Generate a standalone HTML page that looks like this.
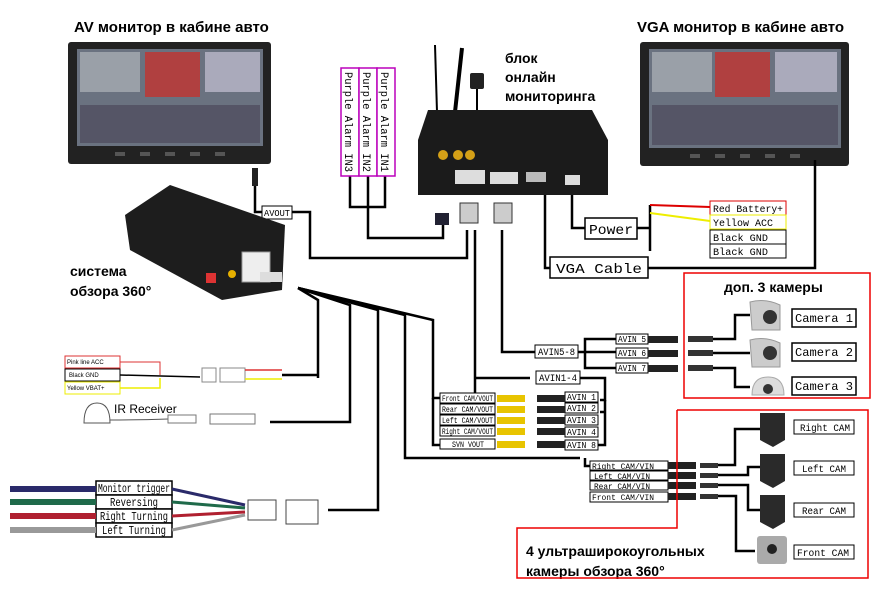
<!DOCTYPE html>
<html><head><meta charset="utf-8"><style>
body{margin:0;background:#fff;}
svg{display:block;font-family:"Liberation Sans",sans-serif;}
.m{font-family:"Liberation Mono",monospace;}
</style></head><body>
<svg width="890" height="596" viewBox="0 0 890 596" xmlns="http://www.w3.org/2000/svg">
<rect width="890" height="596" fill="#fff"/>
<text x="74" y="32" font-size="15" font-weight="bold">AV монитор в кабине авто</text>
<text x="637" y="32" font-size="15" font-weight="bold">VGA монитор в кабине авто</text>
<text x="505" y="63" font-size="14" font-weight="bold">блок</text>
<text x="505" y="82" font-size="14" font-weight="bold">онлайн</text>
<text x="505" y="101" font-size="14" font-weight="bold">мониторинга</text>
<text x="70" y="276" font-size="14" font-weight="bold">система</text>
<text x="70" y="296" font-size="14" font-weight="bold">обзора 360°</text>
<text x="724" y="292" font-size="14" font-weight="bold">доп. 3 камеры</text>
<text x="526" y="556" font-size="14" font-weight="bold">4 ультраширокоугольных</text>
<text x="526" y="576" font-size="14" font-weight="bold">камеры обзора 360°</text>

<g>
<rect x="68" y="42" width="203" height="122" fill="#222" rx="3"/>
<rect x="77" y="49" width="186" height="97" fill="#6a7280"/>
<rect x="80" y="52" width="60" height="40" fill="#9aa0a8"/><rect x="145" y="52" width="55" height="45" fill="#b04040"/><rect x="205" y="52" width="55" height="40" fill="#aab"/>
<rect x="80" y="105" width="180" height="38" fill="#556"/>
<g fill="#555"><rect x="115" y="152" width="10" height="4"/><rect x="140" y="152" width="10" height="4"/><rect x="165" y="152" width="10" height="4"/><rect x="190" y="152" width="10" height="4"/><rect x="215" y="152" width="10" height="4"/></g>
</g>
<g>
<rect x="640" y="42" width="209" height="124" fill="#222" rx="3"/>
<rect x="649" y="49" width="192" height="99" fill="#6a7280"/>
<rect x="652" y="52" width="60" height="40" fill="#9aa0a8"/><rect x="715" y="52" width="55" height="45" fill="#b04040"/><rect x="775" y="52" width="62" height="40" fill="#aab"/>
<rect x="652" y="105" width="186" height="40" fill="#556"/>
<g fill="#555"><rect x="690" y="154" width="10" height="4"/><rect x="715" y="154" width="10" height="4"/><rect x="740" y="154" width="10" height="4"/><rect x="765" y="154" width="10" height="4"/><rect x="790" y="154" width="10" height="4"/></g>
</g>

<g fill="none" stroke="#000" stroke-width="2.5">
<polyline points="255,185 255,212 262,212"/>
<polyline points="292,212 310,212 310,258 467,258 467,230"/>
<polyline points="350,175 350,207 385,207 385,175"/>
<polyline points="368,175 368,238 443,238 443,222"/>
<polyline points="475,230 475,402"/>
<polyline points="502,230 502,352 535,352"/>
<polyline points="475,378 530,378"/>
<polyline points="578,352 585,352 585,339 617,339"/>
<polyline points="585,352 617,352"/>
<polyline points="585,352 585,368 617,368"/>
<polyline points="580,378 605,378 605,400 600,400"/>
<polyline points="605,400 605,445 598,445"/>
<polyline points="605,412 600,412 M605,425 600,425"/>
<polyline points="545,195 545,268 550,268"/>
<polyline points="572,190 572,228 585,228"/>
<polyline points="637,228 650,228"/>
<polyline points="648,268 815,268 815,160"/>
<polyline points="650,205 650,251 M650,220 710,220 M650,236 710,236 M650,251 710,251"/>
<polyline points="298,288 318,300 318,378"/>
<polyline points="298,288 350,305 350,422 270,422"/>
<polyline points="298,288 378,310 378,510 328,510"/>
<polyline points="298,288 405,315 405,458 580,458"/>
<polyline points="298,288 433,320 433,398 440,398"/>
<polyline points="433,398 433,445 440,445 M433,408 440,408 M433,420 440,420 M433,433 440,433"/>
<polyline points="585,458 585,466 590,466 M585,466 585,496 590,496 M585,476 590,476 M585,486 590,486"/>
</g>
<g class="m" font-size="8" stroke="#000" stroke-width="1" lengthAdjust="spacingAndGlyphs">
<rect x="440" y="393" width="55" height="10" fill="#fff"/><text x="442" y="401" stroke="none" textLength="51" lengthAdjust="spacingAndGlyphs">Front CAM/VOUT</text>
<rect x="440" y="404" width="55" height="10" fill="#fff"/><text x="442" y="412" stroke="none" textLength="51" lengthAdjust="spacingAndGlyphs">Rear CAM/VOUT</text>
<rect x="440" y="415" width="55" height="10" fill="#fff"/><text x="442" y="423" stroke="none" textLength="51" lengthAdjust="spacingAndGlyphs">Left CAM/VOUT</text>
<rect x="440" y="426" width="55" height="10" fill="#fff"/><text x="442" y="434" stroke="none" textLength="51" lengthAdjust="spacingAndGlyphs">Right CAM/VOUT</text>
<rect x="440" y="439" width="55" height="10" fill="#fff"/><text x="452" y="447" stroke="none" textLength="32" lengthAdjust="spacingAndGlyphs">SVN VOUT</text>
<rect x="565" y="392" width="33" height="10" fill="#fff"/><text x="567" y="400" stroke="none" font-size="9" textLength="29" lengthAdjust="spacingAndGlyphs">AVIN 1</text>
<rect x="565" y="403" width="33" height="10" fill="#fff"/><text x="567" y="411" stroke="none" font-size="9" textLength="29" lengthAdjust="spacingAndGlyphs">AVIN 2</text>
<rect x="565" y="415" width="33" height="10" fill="#fff"/><text x="567" y="423" stroke="none" font-size="9" textLength="29" lengthAdjust="spacingAndGlyphs">AVIN 3</text>
<rect x="565" y="427" width="33" height="10" fill="#fff"/><text x="567" y="435" stroke="none" font-size="9" textLength="29" lengthAdjust="spacingAndGlyphs">AVIN 4</text>
<rect x="565" y="440" width="33" height="10" fill="#fff"/><text x="567" y="448" stroke="none" font-size="9" textLength="29" lengthAdjust="spacingAndGlyphs">AVIN 8</text>
<rect x="616" y="334" width="32" height="10" fill="#fff"/><text x="618" y="342" stroke="none" font-size="9" textLength="28" lengthAdjust="spacingAndGlyphs">AVIN 5</text>
<rect x="616" y="348" width="32" height="10" fill="#fff"/><text x="618" y="356" stroke="none" font-size="9" textLength="28" lengthAdjust="spacingAndGlyphs">AVIN 6</text>
<rect x="616" y="363" width="32" height="10" fill="#fff"/><text x="618" y="371" stroke="none" font-size="9" textLength="28" lengthAdjust="spacingAndGlyphs">AVIN 7</text>
<rect x="535" y="345" width="43" height="13" fill="#fff"/><text x="538" y="355" stroke="none" font-size="10" textLength="37" lengthAdjust="spacingAndGlyphs">AVIN5-8</text>
<rect x="536" y="371" width="44" height="13" fill="#fff"/><text x="539" y="381" stroke="none" font-size="10" textLength="38" lengthAdjust="spacingAndGlyphs">AVIN1-4</text>
<rect x="590" y="461" width="78" height="9" fill="#fff"/><text x="592" y="469" stroke="none" textLength="62" lengthAdjust="spacingAndGlyphs">Right CAM/VIN</text>
<rect x="590" y="471" width="78" height="9" fill="#fff"/><text x="594" y="479" stroke="none" textLength="56" lengthAdjust="spacingAndGlyphs">Left CAM/VIN</text>
<rect x="590" y="481" width="78" height="9" fill="#fff"/><text x="594" y="489" stroke="none" textLength="56" lengthAdjust="spacingAndGlyphs">Rear CAM/VIN</text>
<rect x="590" y="492" width="78" height="10" fill="#fff"/><text x="592" y="500" stroke="none" textLength="62" lengthAdjust="spacingAndGlyphs">Front CAM/VIN</text>
<rect x="262" y="206" width="30" height="13" fill="#fff"/><text x="264" y="216" stroke="none" font-size="9" textLength="26" lengthAdjust="spacingAndGlyphs">AVOUT</text>
<rect x="585" y="218" width="52" height="21" fill="#fff" stroke-width="1.5"/><text x="589" y="234" stroke="none" font-size="14" textLength="44" lengthAdjust="spacingAndGlyphs">Power</text>
<rect x="550" y="257" width="98" height="21" fill="#fff" stroke-width="1.5"/><text x="556" y="273" stroke="none" font-size="14" textLength="86" lengthAdjust="spacingAndGlyphs">VGA Cable</text>
<rect x="710" y="201" width="76" height="14" fill="#fff" stroke="#d00"/><text x="713" y="212" stroke="none" font-size="10" textLength="70" lengthAdjust="spacingAndGlyphs">Red Battery+</text>
<rect x="710" y="215" width="76" height="14" fill="#fff" stroke="#ee0"/><text x="713" y="226" stroke="none" font-size="10" textLength="60" lengthAdjust="spacingAndGlyphs">Yellow ACC</text>
<rect x="710" y="230" width="76" height="14" fill="#fff"/><text x="713" y="241" stroke="none" font-size="10" textLength="55" lengthAdjust="spacingAndGlyphs">Black GND</text>
<rect x="710" y="244" width="76" height="14" fill="#fff"/><text x="713" y="255" stroke="none" font-size="10" textLength="55" lengthAdjust="spacingAndGlyphs">Black GND</text>
<rect x="792" y="309" width="64" height="18" fill="#fff" stroke-width="1.5"/><text x="795" y="322" stroke="none" font-size="12" textLength="58" lengthAdjust="spacingAndGlyphs">Camera 1</text>
<rect x="792" y="343" width="64" height="18" fill="#fff" stroke-width="1.5"/><text x="795" y="356" stroke="none" font-size="12" textLength="58" lengthAdjust="spacingAndGlyphs">Camera 2</text>
<rect x="792" y="377" width="64" height="18" fill="#fff" stroke-width="1.5"/><text x="795" y="390" stroke="none" font-size="12" textLength="58" lengthAdjust="spacingAndGlyphs">Camera 3</text>
<rect x="794" y="420" width="60" height="14" fill="#fff"/><text x="800" y="431" stroke="none" font-size="10" textLength="50" lengthAdjust="spacingAndGlyphs">Right CAM</text>
<rect x="794" y="461" width="60" height="14" fill="#fff"/><text x="802" y="472" stroke="none" font-size="10" textLength="44" lengthAdjust="spacingAndGlyphs">Left CAM</text>
<rect x="794" y="503" width="60" height="14" fill="#fff"/><text x="802" y="514" stroke="none" font-size="10" textLength="44" lengthAdjust="spacingAndGlyphs">Rear CAM</text>
<rect x="794" y="545" width="60" height="14" fill="#fff"/><text x="797" y="556" stroke="none" font-size="10" textLength="52" lengthAdjust="spacingAndGlyphs">Front CAM</text>
</g>
<g fill="none" stroke-width="2"><line x1="650" y1="205" x2="710" y2="207" stroke="#d00"/><line x1="650" y1="213" x2="710" y2="221" stroke="#ee0"/></g>
<g stroke="#b0b" stroke-width="1.5" fill="#fff"><rect x="341" y="68" width="18" height="108"/><rect x="359" y="68" width="18" height="108"/><rect x="377" y="68" width="18" height="108"/></g>
<g class="m" font-size="11"><text transform="translate(345,72) rotate(90)" textLength="100" lengthAdjust="spacingAndGlyphs">Purple Alarm IN3</text><text transform="translate(363,72) rotate(90)" textLength="100" lengthAdjust="spacingAndGlyphs">Purple Alarm IN2</text><text transform="translate(381,72) rotate(90)" textLength="100" lengthAdjust="spacingAndGlyphs">Purple Alarm IN1</text></g>
<g>
<line x1="435" y1="45" x2="437" y2="112" stroke="#000" stroke-width="2"/><line x1="462" y1="48" x2="455" y2="112" stroke="#000" stroke-width="4"/>
<rect x="470" y="73" width="14" height="16" fill="#222" rx="2"/><line x1="477" y1="89" x2="477" y2="112" stroke="#000" stroke-width="2"/>
<path d="M428 110 L592 110 L608 140 L608 195 L418 195 L418 140 Z" fill="#1b1b1b"/>
<circle cx="443" cy="155" r="5" fill="#d4a017"/><circle cx="458" cy="155" r="5" fill="#d4a017"/><circle cx="470" cy="155" r="5" fill="#d4a017"/>
<rect x="455" y="170" width="30" height="14" fill="#ddd"/><rect x="490" y="172" width="28" height="12" fill="#ddd"/><rect x="526" y="172" width="20" height="10" fill="#bbb"/><rect x="565" y="175" width="15" height="10" fill="#ddd"/>
<rect x="435" y="213" width="14" height="12" fill="#223"/><rect x="460" y="203" width="18" height="20" fill="#ccc" stroke="#333"/><rect x="494" y="203" width="18" height="20" fill="#ccc" stroke="#333"/>
</g>
<g>
<path d="M125 215 L170 185 L285 225 L282 290 L222 300 L130 250 Z" fill="#1d1d1d"/>
<rect x="242" y="252" width="28" height="30" fill="#eee" stroke="#999"/><rect x="260" y="272" width="22" height="10" fill="#ddd"/>
<rect x="206" y="273" width="10" height="10" fill="#d33"/><circle cx="232" cy="274" r="4" fill="#e6b000"/>
<rect x="252" y="168" width="6" height="18" fill="#222"/>
</g>
<g font-size="6" stroke-width="1">
<rect x="65" y="356" width="55" height="12" fill="#fff" stroke="#d33"/><text x="67" y="364">Pink line ACC</text>
<rect x="65" y="369" width="55" height="12" fill="#fff" stroke="#000"/><text x="69" y="377">Black GND</text>
<rect x="65" y="382" width="55" height="12" fill="#fff" stroke="#ee0"/><text x="67" y="390">Yellow VBAT+</text>
<polyline points="120,362 160,362 160,375" fill="none" stroke="#d33"/><polyline points="120,388 160,388 160,378" fill="none" stroke="#ee0" stroke-width="1.5"/>
<line x1="120" y1="375" x2="200" y2="377" stroke="#000" stroke-width="1.5"/>
<rect x="202" y="368" width="14" height="14" fill="#fff" stroke="#888"/><rect x="220" y="368" width="25" height="14" fill="#fff" stroke="#888"/>
<line x1="245" y1="370" x2="282" y2="370" stroke="#d33" stroke-width="1.5"/><line x1="245" y1="379" x2="282" y2="379" stroke="#ee0" stroke-width="1.5"/><line x1="282" y1="375" x2="318" y2="375" stroke="#000" stroke-width="2.5"/>
</g>
<text x="114" y="413" font-size="12">IR Receiver</text>
<path d="M84 423 Q84 403 97 403 Q110 403 110 423 Z" fill="#fff" stroke="#555"/>
<path d="M110 420 Q140 420 168 419" fill="none" stroke="#555"/>
<rect x="168" y="415" width="28" height="8" fill="#fff" stroke="#777"/><rect x="210" y="414" width="45" height="10" fill="#fff" stroke="#777"/>
<g class="m" font-size="12" stroke-width="1.5">
<rect x="96" y="481" width="76" height="14" fill="#fff" stroke="#000"/><text x="98" y="492" textLength="72" lengthAdjust="spacingAndGlyphs">Monitor trigger</text>
<rect x="96" y="495" width="76" height="14" fill="#fff" stroke="#000"/><text x="110" y="506" textLength="48" lengthAdjust="spacingAndGlyphs">Reversing</text>
<rect x="96" y="509" width="76" height="14" fill="#fff" stroke="#000"/><text x="100" y="520" textLength="68" lengthAdjust="spacingAndGlyphs">Right Turning</text>
<rect x="96" y="523" width="76" height="14" fill="#fff" stroke="#000"/><text x="102" y="534" textLength="64" lengthAdjust="spacingAndGlyphs">Left Turning</text>
</g>
<g stroke-width="6"><line x1="10" y1="489" x2="96" y2="489" stroke="#2a2a6a"/><line x1="10" y1="502" x2="96" y2="502" stroke="#1f6a4a"/><line x1="10" y1="516" x2="96" y2="516" stroke="#b02030"/><line x1="10" y1="530" x2="96" y2="530" stroke="#999"/></g>
<g stroke-width="3" fill="none"><path d="M172 489 L245 505" stroke="#2a2a6a"/><path d="M172 502 L245 508" stroke="#1f6a4a"/><path d="M172 516 L245 512" stroke="#b02030"/><path d="M172 530 L245 515" stroke="#999"/></g>
<rect x="248" y="500" width="28" height="20" fill="#fff" stroke="#444"/><rect x="286" y="500" width="32" height="24" fill="#fff" stroke="#444"/>
<g>
<rect x="497" y="395" width="28" height="7" fill="#e8c400"/><rect x="497" y="406" width="28" height="7" fill="#e8c400"/><rect x="497" y="417" width="28" height="7" fill="#e8c400"/><rect x="497" y="428" width="28" height="7" fill="#e8c400"/><rect x="497" y="441" width="28" height="7" fill="#e8c400"/>
<rect x="537" y="395" width="28" height="7" fill="#222"/><rect x="537" y="406" width="28" height="7" fill="#222"/><rect x="537" y="417" width="28" height="7" fill="#222"/><rect x="537" y="428" width="28" height="7" fill="#222"/><rect x="537" y="441" width="28" height="7" fill="#222"/>
<rect x="648" y="336" width="30" height="7" fill="#222"/><rect x="648" y="350" width="30" height="7" fill="#222"/><rect x="648" y="365" width="30" height="7" fill="#222"/>
<rect x="668" y="462" width="28" height="7" fill="#222"/><rect x="668" y="472" width="28" height="7" fill="#222"/><rect x="668" y="482" width="28" height="7" fill="#222"/><rect x="668" y="493" width="28" height="7" fill="#222"/>
<rect x="688" y="336" width="25" height="6" fill="#333"/><rect x="688" y="350" width="25" height="6" fill="#333"/><rect x="688" y="365" width="25" height="6" fill="#333"/>
<rect x="700" y="463" width="18" height="5" fill="#333"/><rect x="700" y="473" width="18" height="5" fill="#333"/><rect x="700" y="483" width="18" height="5" fill="#333"/><rect x="700" y="494" width="18" height="5" fill="#333"/>
</g>
<g fill="none" stroke="#000" stroke-width="2.5">
<polyline points="713,339 735,339 735,315 750,315"/><polyline points="713,353 750,353"/><polyline points="713,368 735,368 735,387 750,387"/>
<polyline points="718,465 735,465 735,429 760,429"/><polyline points="718,475 748,475 748,467 760,467"/><polyline points="718,485 748,485 748,510 760,510"/><polyline points="718,496 736,496 736,551 755,551"/>
</g>
<g>
<path d="M750 302 Q765 298 780 305 L780 330 L752 330 Z" fill="#ccc" stroke="#999"/><circle cx="770" cy="317" r="7" fill="#333"/>
<path d="M750 340 Q765 336 780 343 L780 367 L752 367 Z" fill="#ccc" stroke="#999"/><circle cx="770" cy="353" r="7" fill="#333"/>
<path d="M752 395 Q752 377 768 377 Q784 377 784 395 Z" fill="#ddd" stroke="#aaa"/><circle cx="768" cy="389" r="5" fill="#333"/>
<path d="M760 413 L785 413 L785 440 L773 447 L760 440 Z" fill="#2a2a2a"/>
<path d="M760 454 L785 454 L785 481 L773 488 L760 481 Z" fill="#2a2a2a"/>
<path d="M760 495 L785 495 L785 522 L773 529 L760 522 Z" fill="#2a2a2a"/>
<rect x="757" y="536" width="30" height="28" fill="#aaa" rx="3"/><circle cx="772" cy="549" r="5" fill="#222"/>
</g>
<g fill="none" stroke="#e00" stroke-width="1.5">
<rect x="684" y="273" width="186" height="125"/>
<polyline points="677,410 677,528 517,528 517,578 868,578 868,410 677,410"/>
</g>
</svg>
</body></html>
